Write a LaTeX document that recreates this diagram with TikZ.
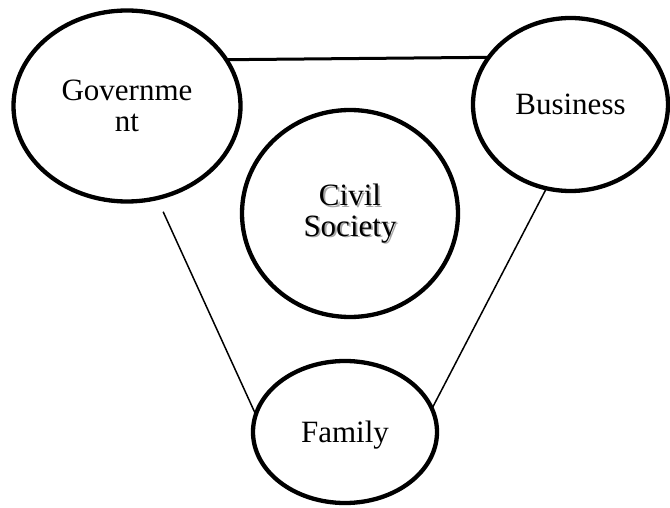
\documentclass[tikz,border=0pt]{standalone}
\usepackage{fontspec}
\setmainfont{Liberation Serif}
\usetikzlibrary{shapes.geometric}
\begin{document}
\begin{tikzpicture}[x=1pt,y=-1pt,
  blob/.style={ellipse, draw, line width=4.3pt, inner sep=0pt, outer sep=0pt,
    align=center, font=\fontsize{31}{30.5}\selectfont},
  toplink/.style={line width=3pt},
  link/.style={line width=1.5pt},
  shadowtext/.style={align=center, font=\fontsize{31}{30.5}\selectfont, text=black!35}]
\useasboundingbox (0,0) rectangle (670,508);
\node[shadowtext] (civshadow) at (351.8,215.3) {Civil\\Society};
\node[blob, minimum width=227pt, minimum height=191pt] (gov) at (127,106) {Governme\\nt};
\node[blob, minimum width=195pt, minimum height=173pt, text depth=0pt] (bus) at (570.5,104.5) {Business};
\node[blob, minimum width=216pt, minimum height=207pt] (civ) at (350,213.5) {Civil\\Society};
\node[blob, minimum width=184pt, minimum height=142pt, text depth=0pt] (fam) at (345,432) {Family};
\draw[toplink] (gov.25.9) -- (bus.150.4);
\draw[link, shorten <=15pt] (gov.-72.2) -- (fam.169);
\draw[link] (bus.-106.2) -- (fam.15.9);
\end{tikzpicture}
\end{document}
